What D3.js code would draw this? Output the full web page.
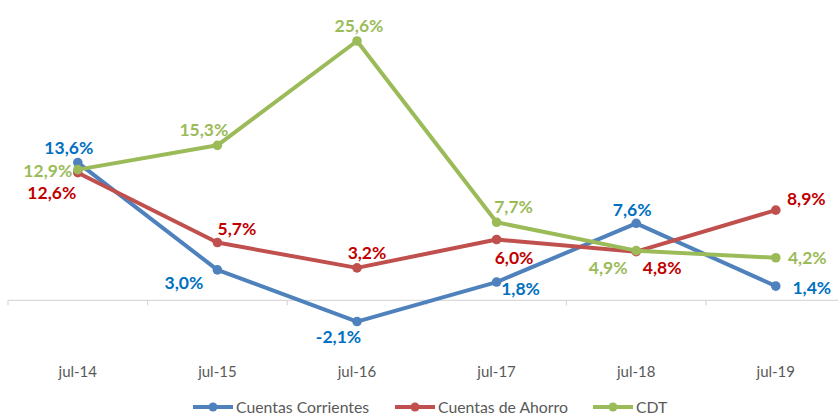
<!DOCTYPE html>
<html>
<head>
<meta charset="utf-8">
<script src="https://cdn.jsdelivr.net/npm/d3@7"></script>
<style>
  html, body { margin: 0; padding: 0; background: #ffffff; }
  svg { display: block; }
</style>
</head>
<body>
<svg id="chart" width="838" height="416"></svg>
<script>
// ---- data ----
const categories = ["jul-14", "jul-15", "jul-16", "jul-17", "jul-18", "jul-19"];
const corrientes = [13.6, 3.0, -2.1, 1.8, 7.6, 1.4];
const ahorro     = [12.6, 5.7, 3.2, 6.0, 4.8, 8.9];
const cdt        = [12.9, 15.3, 25.6, 7.7, 4.9, 4.2];
const seriesNames = ["Cuentas Corrientes", "Cuentas de Ahorro", "CDT"];

// ---- label placement (px offsets from each point) ----
const offCorrientes = [[-9,-15],[-33.5,12.5],[-18.5,15.5],[24,6.5],[-4,-14],[36,1.5]];
const offAhorro     = [[-26,20],[19.5,-13.5],[10,-15.5],[17.5,18],[26,16],[30.5,-11]];
const offCdt        = [[-30,1.5],[-13.5,-16],[2,-15.5],[17,-16],[-28,17],[31.5,0]];

const lineColors  = ["#4F81BD", "#C0504D", "#9BBB59"];
const labelColors = ["#0070C0", "#C00000", "#9BBB59"];

const svg = d3.select("#chart");

const x = d3.scaleBand().domain(categories).range([8, 845.6]).padding(0);
const y = d3.scaleLinear().domain([-4, 28]).range([340.8, 16.7]);
const cx = d => x(d) + x.bandwidth() / 2;

const fmt = v => (v < 0 ? "-" : "") + Math.abs(v).toFixed(1).replace(".", ",") + "%";

// axis line at zero
const y0 = y(0);
svg.append("line")
  .attr("x1", 8).attr("x2", 838)
  .attr("y1", y0).attr("y2", y0)
  .attr("stroke", "#D9D9D9").attr("stroke-width", 1.3);

// ticks at band boundaries
svg.selectAll(".tick").data(categories).enter().append("line")
  .attr("x1", d => x(d)).attr("x2", d => x(d))
  .attr("y1", y0).attr("y2", y0 + 5)
  .attr("stroke", "#D9D9D9").attr("stroke-width", 1.3);

// category labels
svg.selectAll(".cat").data(categories).enter().append("text")
  .attr("x", d => cx(d)).attr("y", 377)
  .attr("text-anchor", "middle")
  .attr("font-family", "Lato, 'Open Sans', sans-serif")
  .attr("font-size", 15)
  .attr("fill", "#595959")
  .text(d => d);

const allSeries = [
  { name: seriesNames[0], values: corrientes, off: offCorrientes, i: 0 },
  { name: seriesNames[1], values: ahorro, off: offAhorro, i: 1 },
  { name: seriesNames[2], values: cdt, off: offCdt, i: 2 }
];

const line = d3.line().x((d, i) => cx(categories[i])).y(d => y(d));

allSeries.forEach(s => {
  const g = svg.append("g");
  g.append("path")
    .attr("d", line(s.values))
    .attr("fill", "none")
    .attr("stroke", lineColors[s.i])
    .attr("stroke-width", 4)
    .attr("stroke-linejoin", "round");
  g.selectAll("circle").data(s.values).enter().append("circle")
    .attr("cx", (d, i) => cx(categories[i]))
    .attr("cy", d => y(d))
    .attr("r", 4.8)
    .attr("fill", lineColors[s.i]);
});

allSeries.forEach(s => {
  svg.append("g").selectAll("text").data(s.values).enter().append("text")
    .attr("x", (d, i) => cx(categories[i]) + s.off[i][0])
    .attr("y", (d, i) => y(d) + s.off[i][1])
    .attr("dy", "0.36em")
    .attr("text-anchor", "middle")
    .attr("font-family", "Lato, 'Open Sans', sans-serif")
    .attr("font-weight", "bold")
    .attr("font-size", 17.5)
    .attr("fill", labelColors[s.i])
    .text(d => fmt(d));
});

// legend
const legendX = [193, 395, 593];
const legendY = 407;
const lg = svg.append("g");
seriesNames.forEach((n, i) => {
  lg.append("line")
    .attr("x1", legendX[i]).attr("x2", legendX[i] + 40)
    .attr("y1", legendY).attr("y2", legendY)
    .attr("stroke", lineColors[i]).attr("stroke-width", 4);
  lg.append("circle")
    .attr("cx", legendX[i] + 20).attr("cy", legendY).attr("r", 4.5)
    .attr("fill", lineColors[i]);
  lg.append("text")
    .attr("x", legendX[i] + 43).attr("y", legendY)
    .attr("dy", "0.36em")
    .attr("font-family", "Lato, 'Open Sans', sans-serif")
    .attr("font-size", 15.8)
    .attr("fill", "#595959")
    .text(n);
});
</script>
</body>
</html>
